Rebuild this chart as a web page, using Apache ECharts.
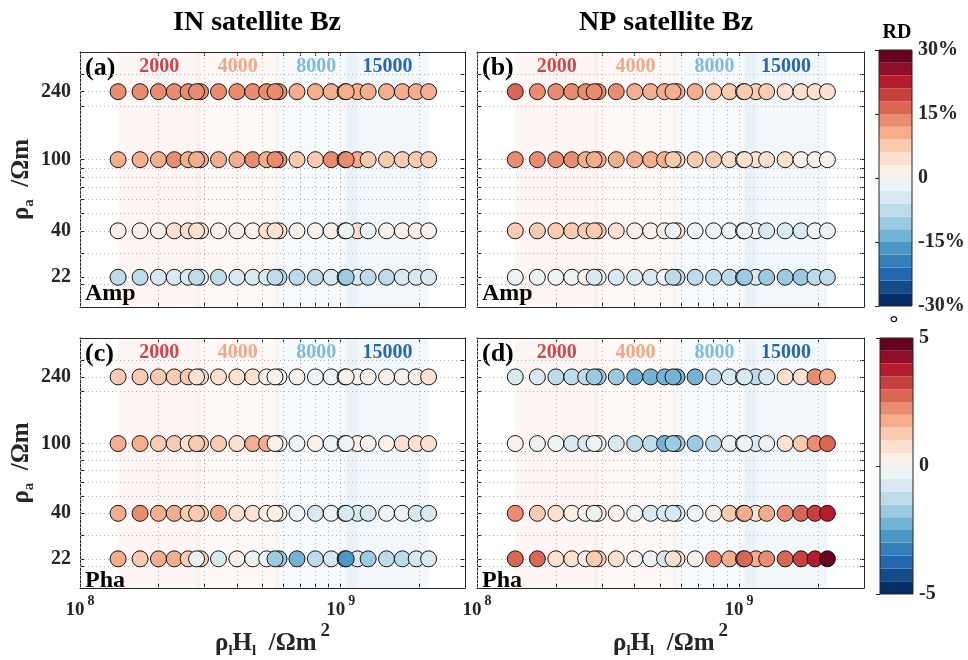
<!DOCTYPE html>
<html>
<head>
<meta charset="utf-8">
<script src="https://cdn.jsdelivr.net/npm/echarts@6/dist/echarts.min.js"></script>
<style>
  html, body { margin: 0; background: #fff; }
  #chart { width: 968px; height: 660px; }
</style>
</head>
<body>
<div id="chart"></div>
<script>
const FONT = '"Liberation Serif", "Times New Roman", serif';
const INK = '#262626';

// x positions: rho_l * H_l (Ωm^2), six resistivities for each layer thickness
const rhoH = [
  1.4e8, 1.7e8, 2.0e8, 2.3e8, 2.6e8, 2.9e8,
  2.8e8, 3.4e8, 4.0e8, 4.6e8, 5.2e8, 5.8e8,
  5.6e8, 6.8e8, 8.0e8, 9.2e8, 1.04e9, 1.16e9,
  1.05e9, 1.275e9, 1.5e9, 1.725e9, 1.95e9, 2.175e9
];
const depthLabels = ['2000', '4000', '8000', '15000'];
const rhoA = [240, 100, 40, 22];

// IN satellite, amplitude RD (%)
const inAmp240 = [13, 13, 13, 13, 13, 13, 13, 13, 13, 13, 14, 14, 13, 11, 11, 11, 11, 11, 11, 11, 11, 11, 11, 11];
const inAmp100 = [11, 11, 11, 12, 10, 11, 11, 11, 10, 12, 11, 13, 13, 8, 8, 13, 13, 11, 13, 8, 8, 8, 8, 8];
const inAmp40  = [2, 2, 2, 5, 5, 5, 5, 2, 2, 2, 5, 5, 5, 2, 2, 2, -1, 5, -1, -1, 2, 2, 2, 2];
const inAmp22  = [-7, -7, -5, -5, -4, -2, -8, -7, -5, -5, -5, -8, -8, -7, -7, -5, -10, -5, -10, -7, -7, -5, -5, -4];
// NP satellite, amplitude RD (%)
const npAmp240 = [17, 14, 14, 14, 14, 13, 13, 13, 11, 11, 11, 11, 11, 11, 8, 8, 8, 8, 8, 8, 5, 5, 5, 5];
const npAmp100 = [14, 14, 14, 14, 11, 11, 11, 11, 11, 10, 9, 8, 8, 8, 8, 5, 5, 5, 5, 5, 5, 2, 2, 2];
const npAmp40  = [8, 8, 8, 8, 8, 8, 8, 5, 2, 2, 2, 5, -1, -1, -1, -1, -1, -1, -1, -4, -4, -4, -1, -1];
const npAmp22  = [-2, -2, -2, -2, 1, -2, -5, -5, -5, -5, -1, -8, -8, -8, -8, -8, -10, -4, -10, -11, -10, -11, -8, -8];
// IN satellite, phase RD (deg)
const inPha240 = [1.2, 1.2, 1.2, 1.2, 1.2, 0.8, 0.8, 0.8, 0.8, 0.8, 0.3, 0.3, 0.3, 0.3, -0.2, -0.2, 0.3, 0.3, 0.3, 0.3, 0.3, 0.3, 0.3, 0.8];
const inPha100 = [1.7, 1.7, 1.2, 1.2, 0.8, 1.2, 1.2, 1.2, 0.8, 1.7, 1.7, 0.3, 0.3, -0.2, 0.3, -0.2, -0.2, 0.3, -0.2, 0.3, 0.3, 0.8, 0.8, 0.8];
const inPha40  = [1.7, 2.2, 1.7, 1.7, 1.2, 1.2, 1.2, 1.7, 0.8, 0.8, 0.3, 0.3, 0.3, -0.2, -0.7, -0.2, -0.7, -0.7, -0.7, -0.7, -0.2, -0.2, -0.7, -0.7];
const inPha22  = [1.7, 1.2, 1.7, 1.7, 1.2, 1.2, -0.2, -0.7, 0.3, -0.2, -0.2, -1.7, -1.7, -2.2, -1.2, -0.7, -2.7, -0.7, -2.7, -1.7, -1.2, -1.2, -0.7, -0.7];
// NP satellite, phase RD (deg)
const npPha240 = [-0.7, -0.7, -1.2, -1.2, -1.2, -1.7, -1.7, -1.7, -2.2, -2.2, -2.2, -2.2, -2.2, -2.2, -1.2, -0.7, -0.7, -1.2, -0.7, -0.7, 0.8, 0.8, 2.2, 1.7];
const npPha100 = [0.3, -0.2, -0.2, -0.7, -0.7, -0.2, -0.2, -0.7, -1.2, -1.2, -2.2, -1.7, -1.7, -1.7, -1.2, -0.2, -0.2, -0.7, -0.2, -0.2, 0.8, 1.2, 2.2, 2.7];
const npPha40  = [2.2, 1.2, 0.8, 0.3, 0.3, 0.3, -0.2, 0.3, -0.2, -0.7, -0.7, -0.7, -0.7, -0.2, 0.3, 1.2, 1.7, 0.8, 1.7, 1.7, 2.2, 2.7, 3.2, 3.7];
const npPha22  = [2.7, 2.7, 0.8, 0.8, 0.3, 1.2, 1.2, 0.8, 0.3, -0.2, -0.7, 0.8, 0.8, 0.3, 2.2, 1.7, 2.7, 1.7, 2.7, 2.2, 2.7, 3.2, 3.7, 4.7];

// axis ticks and grid
const xTickLabels = [1e8, 1e9];
const xMinor = [2e8, 3e8, 4e8, 5e8, 6e8, 7e8, 8e8, 9e8, 2e9];
const yMinor = [20, 30, 50, 60, 70, 80, 90, 200, 300];

// colour bars
const rdLevels = [-30, -27, -24, -21, -18, -15, -12, -9, -6, -3, 0, 3, 6, 9, 12, 15, 18, 21, 24, 27, 30];
const phaLevels = [-5, -4.5, -4, -3.5, -3, -2.5, -2, -1.5, -1, -0.5, 0, 0.5, 1, 1.5, 2, 2.5, 3, 3.5, 4, 4.5, 5];
const RDBU = [
  '#053061', '#144c89', '#2368ad', '#3580b9', '#4b98c6', '#75b3d4', '#9ccae1', '#bddbea', '#d9e9f2', '#edf2f5',
  '#f9f0ea', '#fce1d1', '#facab1', '#f5ae8d', '#e98c6f', '#d96753', '#c7423f', '#b41c2d', '#8f0d25', '#67001f'
];

const bandFill = ['rgba(214,96,77,0.06)', 'rgba(244,165,130,0.07)', 'rgba(146,197,222,0.08)', 'rgba(67,147,195,0.07)'];
const bandText = ['#d0454a', '#f4a786', '#7dbcdf', '#2468b0'];

const panels = [
  { id: '(a)', tag: 'Amp', lim: 30, rows: [inAmp240, inAmp100, inAmp40, inAmp22],
    box: { left: 80, top: 52, width: 385, height: 255 }, xLab: false, yLab: true },
  { id: '(b)', tag: 'Amp', lim: 30, rows: [npAmp240, npAmp100, npAmp40, npAmp22],
    box: { left: 477, top: 52, width: 387, height: 255 }, xLab: false, yLab: false },
  { id: '(c)', tag: 'Pha', lim: 5, rows: [inPha240, inPha100, inPha40, inPha22],
    box: { left: 80, top: 338, width: 385, height: 256 }, xLab: true, yLab: true },
  { id: '(d)', tag: 'Pha', lim: 5, rows: [npPha240, npPha100, npPha40, npPha22],
    box: { left: 477, top: 338, width: 387, height: 256 }, xLab: true, yLab: false }
];

function rdColor(v, lim) {
  const i = Math.floor((v + lim) / (2 * lim) * RDBU.length);
  return RDBU[Math.min(RDBU.length - 1, Math.max(0, i))];
}

function isPow10(v) {
  const e = Math.round(Math.log10(v));
  return Math.abs(v / Math.pow(10, e) - 1) < 1e-6;
}

const bold = { fontFamily: FONT, fontWeight: 'bold', color: INK };

const grids = [], xAxes = [], yAxes = [], series = [], graphics = [];

panels.forEach((p, k) => {
  grids.push(Object.assign({ containLabel: false }, p.box));

  const xBase = {
    type: 'log', logBase: 10, min: 1e8, max: 3e9, gridIndex: k,
    axisLine: { show: true, onZero: false, lineStyle: { color: INK, width: 1 } },
    axisTick: { show: true, inside: true, length: 4, customValues: xTickLabels.concat(xMinor), lineStyle: { color: INK } },
    splitLine: { show: false }, minorTick: { show: false }
  };
  xAxes.push(Object.assign({}, xBase, {
    position: 'bottom',
    axisLabel: {
      show: p.xLab, customValues: xTickLabels, margin: 6,
      formatter: v => isPow10(v) ? '{b|10}{e|' + Math.round(Math.log10(v)) + '}' : '',
      rich: {
        b: Object.assign({ fontSize: 19, lineHeight: 26, verticalAlign: 'bottom' }, bold),
        e: Object.assign({ fontSize: 14, lineHeight: 14, verticalAlign: 'top', padding: [0, 0, 0, 3] }, bold)
      }
    },
    name: p.xLab ? '{r|ρ}{s|l}{r|H}{s|l}{r|  /Ωm}{p|2}' : '',
    nameLocation: 'middle', nameGap: 34,
    nameTextStyle: {
      rich: {
        r: Object.assign({ fontSize: 25, lineHeight: 34, verticalAlign: 'bottom' }, bold),
        s: Object.assign({ fontSize: 15, lineHeight: 15, verticalAlign: 'bottom', padding: [0, 0, -3, 0] }, bold),
        p: Object.assign({ fontSize: 19, lineHeight: 19, verticalAlign: 'top', padding: [0, 0, 0, 4] }, bold)
      }
    }
  }));
  xAxes.push(Object.assign({}, xBase, { position: 'top', axisLabel: { show: false } }));

  const yBase = {
    type: 'log', logBase: 10, min: 15, max: 400, gridIndex: k,
    axisLine: { show: true, onZero: false, lineStyle: { color: INK, width: 1 } },
    axisTick: { show: true, inside: true, length: 4, customValues: rhoA.concat(yMinor), lineStyle: { color: INK } },
    splitLine: { show: false }, minorTick: { show: false }
  };
  yAxes.push(Object.assign({}, yBase, {
    position: 'left',
    axisLabel: Object.assign({ show: p.yLab, customValues: rhoA, margin: 9, fontSize: 20, formatter: v => String(Math.round(v)) }, bold),
    name: p.yLab ? '{r|ρ}{s|a}{r|  /Ωm}' : '',
    nameLocation: 'middle', nameRotate: 90, nameGap: 44,
    nameTextStyle: {
      rich: {
        r: Object.assign({ fontSize: 25, lineHeight: 34, verticalAlign: 'bottom' }, bold),
        s: Object.assign({ fontSize: 15, lineHeight: 15, verticalAlign: 'bottom', padding: [0, 0, -3, 0] }, bold)
      }
    }
  }));
  yAxes.push(Object.assign({}, yBase, { position: 'right', axisLabel: { show: false } }));

  const data = [];
  p.rows.forEach((vals, r) => vals.forEach((v, i) => data.push([rhoH[i], rhoA[r], v])));

  const bands = depthLabels.map((lab, g) => {
    const grp = rhoH.slice(g * 6, g * 6 + 6);
    return [
      { name: lab, xAxis: Math.min(...grp), itemStyle: { color: bandFill[g] },
        label: { color: bandText[g] } },
      { xAxis: Math.max(...grp) }
    ];
  });

  series.push({
    type: 'scatter', xAxisIndex: 2 * k, yAxisIndex: 2 * k,
    symbol: 'circle', symbolSize: 16, data,
    itemStyle: { color: prm => rdColor(prm.value[2], p.lim), borderColor: '#151515', borderWidth: 1, opacity: 1 },
    emphasis: { disabled: true },
    markArea: {
      silent: true, z: 0,
      label: { show: true, position: 'insideTop', distance: 5, fontFamily: FONT, fontWeight: 'bold', fontSize: 20 },
      data: bands
    },
    markLine: {
      silent: true, z: 1, symbol: ['none', 'none'], label: { show: false },
      lineStyle: { color: '#b4b4b4', type: [1, 3], width: 1 },
      data: xTickLabels.concat(xMinor).map(v => ({ xAxis: v }))
        .concat(rhoA.concat(yMinor).map(v => ({ yAxis: v })))
    }
  });

  graphics.push({
    type: 'text', x: p.box.left + 5, y: p.box.top + 3,
    style: { text: p.id, font: 'bold 26px ' + FONT, fill: '#000', textAlign: 'left', textVerticalAlign: 'top' }
  });
  graphics.push({
    type: 'text', x: p.box.left + 5, y: p.box.top + p.box.height - 1,
    style: { text: p.tag, font: 'bold 24px ' + FONT, fill: '#000', textAlign: 'left', textVerticalAlign: 'bottom' }
  });
});

// colour bars
const bars = [
  { levels: rdLevels, box: { left: 879, top: 50, width: 33, height: 256 }, fmt: v => v === 0 ? '0' : v + '%', step: 15 },
  { levels: phaLevels, box: { left: 880, top: 338, width: 33, height: 256 }, fmt: v => String(v), step: 5 }
];
bars.forEach((b, j) => {
  const gi = panels.length + j;
  grids.push(Object.assign({ show: true, z: 10, borderColor: INK, borderWidth: 1, backgroundColor: 'transparent' }, b.box));
  xAxes.push({ type: 'value', gridIndex: gi, min: 0, max: 1, show: false });
  const lo = b.levels[0], hi = b.levels[b.levels.length - 1];
  yAxes.push({
    type: 'value', gridIndex: gi, min: lo, max: hi, interval: b.step, position: 'right',
    axisLine: { show: false },
    axisTick: { show: true, inside: true, length: 4, lineStyle: { color: INK } },
    splitLine: { show: false },
    axisLabel: Object.assign({ fontSize: 20, margin: 6, formatter: b.fmt }, bold)
  });
  series.push({
    type: 'custom', xAxisIndex: 2 * panels.length + j, yAxisIndex: 2 * panels.length + j,
    silent: true,
    data: b.levels.slice(0, -1).map((v, i) => [v, b.levels[i + 1], i]),
    encode: { y: [0, 1] },
    renderItem: (params, api) => {
      const p0 = api.coord([0, api.value(0)]);
      const p1 = api.coord([1, api.value(1)]);
      return {
        type: 'rect',
        shape: { x: p0[0], y: p1[1], width: p1[0] - p0[0], height: p0[1] - p1[1] },
        style: { fill: RDBU[api.value(2)], stroke: null }
      };
    }
  });
});

graphics.push(
  { type: 'text', x: 257, y: 23, style: { text: 'IN satellite Bz', font: 'bold 28px ' + FONT, fill: '#000', textAlign: 'center', textVerticalAlign: 'middle' } },
  { type: 'text', x: 666, y: 23, style: { text: 'NP satellite Bz', font: 'bold 28px ' + FONT, fill: '#000', textAlign: 'center', textVerticalAlign: 'middle' } },
  { type: 'text', x: 897, y: 33, style: { text: 'RD', font: 'bold 20px ' + FONT, fill: '#000', textAlign: 'center', textVerticalAlign: 'middle' } },
  { type: 'text', x: 894, y: 324, style: { text: '°', font: 'bold 22px ' + FONT, fill: '#000', textAlign: 'center', textVerticalAlign: 'middle' } }
);

const chart = echarts.init(document.getElementById('chart'), null, { renderer: 'canvas' });
chart.setOption({
  animation: false,
  backgroundColor: '#fff',
  grid: grids,
  xAxis: xAxes,
  yAxis: yAxes,
  series: series,
  graphic: graphics
});
</script>
</body>
</html>
